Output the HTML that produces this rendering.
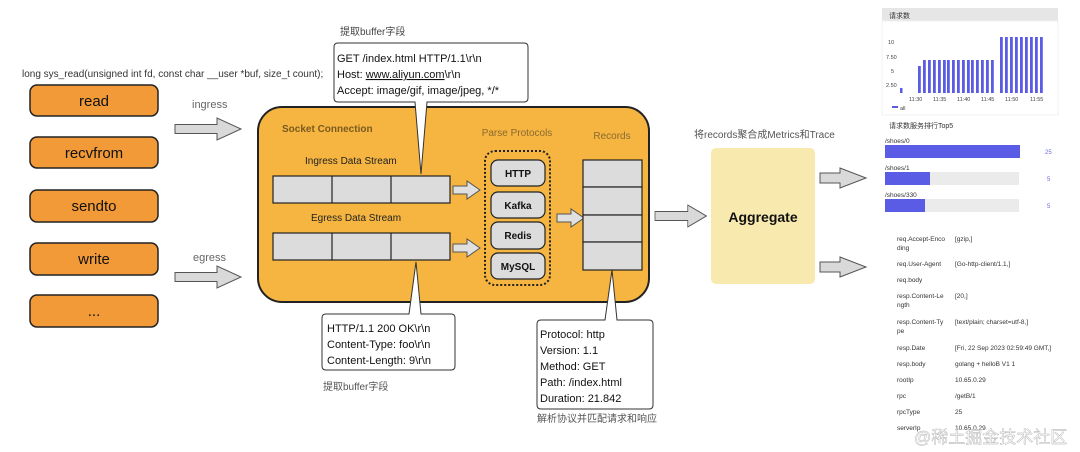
<!DOCTYPE html>
<html><head><meta charset="utf-8"><style>
html,body{margin:0;padding:0;background:#fff;}
svg{display:block;}
text{font-family:"Liberation Sans","Noto Sans CJK SC",sans-serif;}
</style></head><body>
<svg width="1080" height="452" viewBox="0 0 1080 452" xmlns="http://www.w3.org/2000/svg">
<defs>
<g id="arr"><polygon points="0,-4.5 42,-4.5 42,-11 66,0 42,11 42,4.5 0,4.5" fill="#d9d9d9" stroke="#555" stroke-width="1"/></g>
<g id="sarr"><polygon points="0,-4 14,-4 14,-9 27,0 14,9 14,4 0,4" fill="#e0e0e0" stroke="#555" stroke-width="1"/></g>
</defs>
<text x="22" y="77" font-size="10" fill="#333">long sys_read(unsigned int fd, const char __user *buf, size_t count);</text>
<g stroke="#222" stroke-width="1.5" fill="#F29A38">
<rect x="30" y="85" width="128" height="31" rx="7"/>
<rect x="30" y="137" width="128" height="31" rx="7"/>
<rect x="30" y="190" width="128" height="32" rx="7"/>
<rect x="30" y="243" width="128" height="32" rx="7"/>
<rect x="30" y="295" width="128" height="32" rx="7"/>
</g>
<g font-size="15" fill="#111" text-anchor="middle">
<text x="94" y="106">read</text><text x="94" y="158">recvfrom</text><text x="94" y="211">sendto</text><text x="94" y="264">write</text><text x="94" y="316">...</text>
</g>
<text x="192" y="108" font-size="11" fill="#666">ingress</text>
<text x="193" y="261" font-size="11" fill="#666">egress</text>
<use href="#arr" x="175" y="129"/>
<use href="#arr" x="175" y="277"/>
<rect x="258" y="107" width="391" height="195" rx="24" fill="#F5B540" stroke="#222" stroke-width="2"/>
<text x="282" y="132" font-size="10" font-weight="bold" fill="#7a5a20">Socket Connection</text>
<text x="305" y="164" font-size="10" fill="#222">Ingress Data Stream</text>
<text x="311" y="221" font-size="10" fill="#222">Egress Data Stream</text>
<g fill="#dcdcdc" stroke="#222" stroke-width="1.2">
<rect x="273" y="176" width="177" height="27"/><line x1="332" y1="176" x2="332" y2="203"/><line x1="391" y1="176" x2="391" y2="203"/>
<rect x="273" y="233" width="177" height="27"/><line x1="332" y1="233" x2="332" y2="260"/><line x1="391" y1="233" x2="391" y2="260"/>
</g>
<use href="#sarr" x="453" y="190"/>
<use href="#sarr" x="453" y="248"/>
<text x="517" y="136" font-size="10" fill="#8a6a30" text-anchor="middle">Parse Protocols</text>
<text x="612" y="139" font-size="10" fill="#8a6a30" text-anchor="middle">Records</text>
<rect x="485" y="151" width="65" height="134" rx="10" fill="none" stroke="#222" stroke-width="2" stroke-dasharray="2,2"/>
<g fill="#dcdcdc" stroke="#222" stroke-width="1.2">
<rect x="491" y="160" width="54" height="26" rx="7"/>
<rect x="491" y="192" width="54" height="26" rx="7"/>
<rect x="491" y="222" width="54" height="27" rx="7"/>
<rect x="491" y="253" width="54" height="26" rx="7"/>
</g>
<g font-size="10" font-weight="bold" fill="#111" text-anchor="middle">
<text x="518" y="177">HTTP</text><text x="518" y="209">Kafka</text><text x="518" y="239">Redis</text><text x="518" y="270">MySQL</text>
</g>
<use href="#sarr" x="557" y="218"/>
<g fill="#dcdcdc" stroke="#222" stroke-width="1.2">
<rect x="583" y="160" width="59" height="27"/><rect x="583" y="187" width="59" height="28"/><rect x="583" y="215" width="59" height="27"/><rect x="583" y="242" width="59" height="28"/>
</g>
<text x="340" y="35" font-size="10" fill="#444">提取buffer字段</text>
<path d="M338,43 Q334,43 334,47 V98 Q334,102 338,102 H415 L421,174 L427,102 H524 Q528,102 528,98 V47 Q528,43 524,43 Z" fill="#fff" stroke="#333" stroke-width="1"/>
<g font-size="11" fill="#111"><text x="337" y="62">GET /index.html HTTP/1.1\r\n</text>
<text x="337" y="78">Host: <tspan text-decoration="underline">www.aliyun.com</tspan>\r\n</text>
<text x="337" y="94">Accept: image/gif, image/jpeg, */*</text></g>
<path d="M326,314 Q322,314 322,318 V366 Q322,370 326,370 H451 Q455,370 455,366 V318 Q455,314 451,314 H421 L416,262 L409,314 Z" fill="#fff" stroke="#333" stroke-width="1"/>
<g font-size="11" fill="#111"><text x="327" y="332">HTTP/1.1 200 OK\r\n</text><text x="327" y="348">Content-Type: foo\r\n</text><text x="327" y="364">Content-Length: 9\r\n</text></g>
<text x="323" y="390" font-size="10" fill="#555">提取buffer字段</text>
<path d="M541,320 Q537,320 537,324 V405 Q537,409 541,409 H649 Q653,409 653,405 V324 Q653,320 649,320 H617 L612,270 L605,320 Z" fill="#fff" stroke="#333" stroke-width="1"/>
<g font-size="11" fill="#111"><text x="540" y="338">Protocol: http</text><text x="540" y="354">Version: 1.1</text><text x="540" y="370">Method: GET</text><text x="540" y="386">Path: /index.html</text><text x="540" y="402">Duration: 21.842</text></g>
<text x="537" y="422" font-size="10" fill="#555">解析协议并匹配请求和响应</text>
<use href="#arr" x="655" y="216" transform="translate(655,216) scale(0.78,1) translate(-655,-216)"/>
<text x="694" y="138" font-size="10" fill="#555">将records聚合成Metrics和Trace</text>
<rect x="711" y="148" width="104" height="136" rx="5" fill="#F8E9AE"/>
<text x="763" y="222" font-size="14" font-weight="bold" fill="#111" text-anchor="middle">Aggregate</text>
<polygon points="820,173 840,173 840,168 866,178 840,188 840,183 820,183" fill="#d9d9d9" stroke="#555"/>
<polygon points="820,262 840,262 840,257 866,267 840,277 840,272 820,272" fill="#d9d9d9" stroke="#555"/>
<rect x="882" y="8" width="176" height="13" fill="#e6e6e6"/>
<text x="889" y="18" font-size="7" fill="#333">请求数</text>
<rect x="882" y="21" width="176" height="94" fill="#fff" stroke="#f0f0f0"/>
<g font-size="5.5" fill="#444"><text x="888" y="44">10</text><text x="886" y="59">7.50</text><text x="891" y="73">5</text><text x="886" y="87">2.50</text>
<text x="909" y="101">11:30</text><text x="933" y="101">11:35</text><text x="957" y="101">11:40</text><text x="981" y="101">11:45</text><text x="1005" y="101">11:50</text><text x="1030" y="101">11:55</text><text x="900" y="110">all</text></g>
<rect x="892" y="106" width="6" height="2" fill="#5b5ce6"/>
<g fill="#5b5ce6">
<rect x="900" y="88" width="2.5" height="5"/>
<rect x="918" y="66" width="2.8" height="27"/>
<rect x="923" y="60" width="2.8" height="33"/><rect x="928" y="60" width="2.8" height="33"/><rect x="933" y="60" width="2.8" height="33"/><rect x="938" y="60" width="2.8" height="33"/><rect x="943" y="60" width="2.8" height="33"/><rect x="947" y="60" width="2.8" height="33"/><rect x="952" y="60" width="2.8" height="33"/><rect x="957" y="60" width="2.8" height="33"/><rect x="962" y="60" width="2.8" height="33"/><rect x="967" y="60" width="2.8" height="33"/><rect x="971" y="60" width="2.8" height="33"/><rect x="976" y="60" width="2.8" height="33"/><rect x="981" y="60" width="2.8" height="33"/><rect x="986" y="60" width="2.8" height="33"/><rect x="991" y="60" width="2.8" height="33"/>
<rect x="1000" y="37" width="2.8" height="56"/><rect x="1005" y="37" width="2.8" height="56"/><rect x="1010" y="37" width="2.8" height="56"/><rect x="1015" y="37" width="2.8" height="56"/><rect x="1020" y="37" width="2.8" height="56"/><rect x="1025" y="37" width="2.8" height="56"/><rect x="1030" y="37" width="2.8" height="56"/><rect x="1035" y="37" width="2.8" height="56"/><rect x="1040" y="37" width="2.8" height="56"/>
</g>
<text x="889" y="128" font-size="7" fill="#333">请求数服务排行Top5</text>
<g font-size="6.5" fill="#333"><text x="885" y="143">/shoes/0</text><text x="885" y="170">/shoes/1</text><text x="885" y="197">/shoes/330</text></g>
<rect x="885" y="172" width="134" height="13" fill="#ebebeb"/><rect x="885" y="199" width="134" height="13" fill="#ebebeb"/>
<rect x="885" y="145" width="135" height="13" fill="#5b5ce6"/>
<rect x="885" y="172" width="45" height="13" fill="#5b5ce6"/>
<rect x="885" y="199" width="40" height="13" fill="#5b5ce6"/>
<g font-size="6" fill="#6a6ae0"><text x="1045" y="154">25</text><text x="1047" y="181">5</text><text x="1047" y="208">5</text></g>
<g font-size="6.5" fill="#333">
<text x="897" y="241">req.Accept-Enco</text><text x="897" y="250">ding</text><text x="955" y="241">[gzip,]</text>
<text x="897" y="266">req.User-Agent</text><text x="955" y="266">[Go-http-client/1.1,]</text>
<text x="897" y="282">req.body</text>
<text x="897" y="298">resp.Content-Le</text><text x="897" y="307">ngth</text><text x="955" y="298">[20,]</text>
<text x="897" y="324">resp.Content-Ty</text><text x="897" y="333">pe</text><text x="955" y="324">[text/plain; charset=utf-8,]</text>
<text x="897" y="350">resp.Date</text><text x="955" y="350">[Fri, 22 Sep 2023 02:59:49 GMT,]</text>
<text x="897" y="366">resp.body</text><text x="955" y="366">golang + helloB V1 1</text>
<text x="897" y="382">rootIp</text><text x="955" y="382">10.65.0.29</text>
<text x="897" y="398">rpc</text><text x="955" y="398">/getB/1</text>
<text x="897" y="414">rpcType</text><text x="955" y="414">25</text>
<text x="897" y="430">serverIp</text><text x="955" y="430">10.65.0.29</text>
</g>
<text x="914" y="443" font-size="17" fill="#fff" fill-opacity="0.7" stroke="#aaa" stroke-width="0.4">@稀土掘金技术社区</text>
</svg>
</body></html>
